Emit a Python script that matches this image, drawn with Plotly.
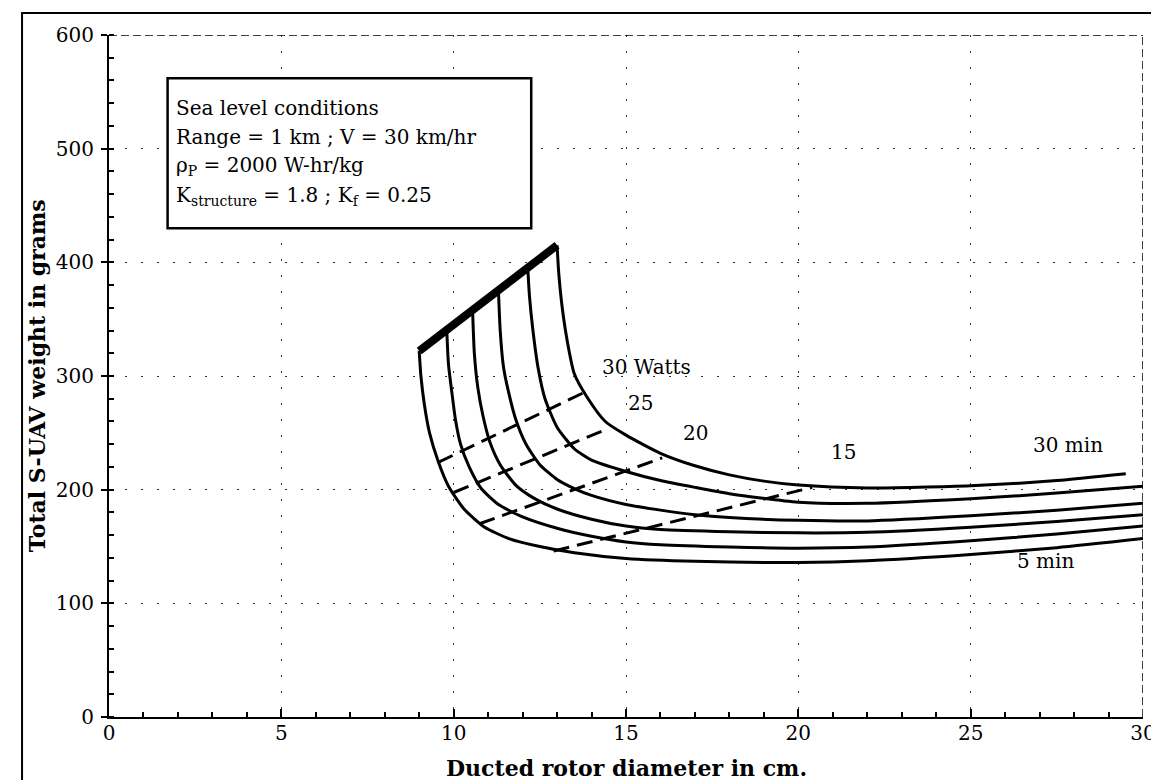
import plotly.graph_objects as go

# ---- data: endurance curves (total weight vs ducted rotor diameter) ----
diam_5min = [9.0, 9.05, 9.15, 9.3, 9.55, 9.85, 10.3, 10.9, 11.6, 12.5, 13.5, 15.0, 17.0, 20.0, 22.0, 25.0, 27.5, 30.0]
wt_5min = [322, 300, 275, 250, 225, 203, 183, 167, 157, 150, 144.5, 139.5, 137, 136, 137.5, 143, 149, 157]

diam_10min = [9.8, 9.85, 9.95, 10.05, 10.2, 10.45, 10.8, 11.3, 12.0, 13.0, 14.0, 15.0, 16.0, 18.0, 20.0, 22.0, 25.0, 27.5, 30.0]
wt_10min = [340, 310, 285, 262, 240, 220, 201, 187, 176, 166, 159, 154, 151.5, 149.5, 148.5, 149.5, 155, 161, 168]

diam_15min = [10.55, 10.6, 10.7, 10.85, 11.05, 11.35, 11.8, 12.3, 13.0, 14.0, 15.0, 16.0, 18.0, 20.0, 22.0, 25.0, 27.5, 30.0]
wt_15min = [357, 320, 290, 265, 242, 222, 204, 193, 183, 174, 168, 165, 163, 162, 162.5, 167, 172, 178]

diam_20min = [11.3, 11.35, 11.45, 11.6, 11.8, 12.1, 12.5, 13.0, 13.5, 14.0, 15.0, 16.0, 17.0, 18.0, 20.0, 22.0, 25.0, 27.5, 30.0]
wt_20min = [375, 340, 307, 285, 262, 240, 222, 209, 201, 195, 187, 182, 178, 175.5, 173, 172.5, 177, 182, 188]

diam_25min = [12.15, 12.2, 12.3, 12.45, 12.65, 13.0, 13.5, 14.0, 15.0, 16.0, 17.0, 18.0, 20.0, 22.0, 25.0, 27.5, 30.0]
wt_25min = [395, 370, 340, 307, 280, 255, 236, 226, 216, 208, 202, 196.5, 189, 188, 192, 197, 203]

diam_30min = [13.0, 13.05, 13.15, 13.3, 13.5, 13.9, 14.4, 15.0, 16.0, 17.0, 18.0, 19.0, 20.0, 22.0, 25.0, 27.5, 29.5]
wt_30min = [415, 390, 360, 330, 302, 280, 260, 248, 232, 221, 213, 207.5, 204, 201.5, 203.5, 208, 214]

# upper envelope (thick line joining curve starts)
envelope_diam = [9.0, 13.0]
envelope_wt = [322, 415]

# constant power lines (dashed)
diam_30W = [9.55, 13.75]
wt_30W = [224, 285]
diam_25W = [10.0, 14.5]
wt_25W = [197.5, 254]
diam_20W = [10.75, 16.05]
wt_20W = [170, 228]
diam_15W = [12.9, 20.4]
wt_15W = [146, 202]

x_ticks = [0, 5, 10, 15, 20, 25, 30]
y_ticks = [0, 100, 200, 300, 400, 500, 600]

box_lines = [
    "Sea level conditions",
    "Range = 1 km ; V = 30 km/hr",
    "\u03c1<sub>P</sub> = 2000 W-hr/kg",
    "K<sub>structure</sub> = 1.8 ; K<sub>f</sub> = 0.25",
]
box_line_y = [536, 510, 485, 458]

curve_labels = ["30 Watts", "25", "20", "15", "30 min", "5 min"]
curve_label_x = [14.25, 15.0, 16.6, 20.9, 26.75, 26.3]
curve_label_y = [308, 276, 249.5, 233, 239, 137]

FONT = "DejaVu Serif"

fig = go.Figure()

endurance = [
    (diam_5min, wt_5min), (diam_10min, wt_10min), (diam_15min, wt_15min),
    (diam_20min, wt_20min), (diam_25min, wt_25min), (diam_30min, wt_30min),
]
for xs, ys in endurance:
    fig.add_trace(go.Scatter(x=xs, y=ys, mode="lines",
                             line=dict(color="black", width=3, shape="spline", smoothing=0.6),
                             showlegend=False, hoverinfo="skip"))

fig.add_trace(go.Scatter(x=envelope_diam, y=envelope_wt, mode="lines",
                         line=dict(color="black", width=8), showlegend=False, hoverinfo="skip"))

for xs, ys in [(diam_30W, wt_30W), (diam_25W, wt_25W), (diam_20W, wt_20W), (diam_15W, wt_15W)]:
    fig.add_trace(go.Scatter(x=xs, y=ys, mode="lines",
                             line=dict(color="black", width=3, dash="16px,8px"),
                             showlegend=False, hoverinfo="skip"))

# plot border top/right (dashed)
fig.add_shape(type="line", x0=0, x1=30, y0=600, y1=600, xref="x", yref="y",
              line=dict(color="black", width=1.5, dash="8px,4px"))
fig.add_shape(type="line", x0=30, x1=30, y0=0, y1=600, xref="x", yref="y",
              line=dict(color="black", width=1.5, dash="8px,4px"))

# outer frame
fig.add_shape(type="rect", xref="paper", yref="paper",
              x0=-0.0841, x1=1.0164, y0=-0.0968, y1=1.0323,
              line=dict(color="black", width=2), layer="above")

# text box
fig.add_shape(type="rect", xref="x", yref="y", x0=1.7, x1=12.25, y0=430, y1=562,
              line=dict(color="black", width=2.5), fillcolor="white", layer="above")
for txt, yy in zip(box_lines, box_line_y):
    fig.add_annotation(x=1.88, y=yy, xref="x", yref="y", text=txt, showarrow=False,
                       xanchor="left", yanchor="middle",
                       font=dict(family=FONT, size=20, color="black"))

for txt, lx, ly in zip(curve_labels, curve_label_x, curve_label_y):
    fig.add_annotation(x=lx, y=ly, xref="x", yref="y", text=txt, showarrow=False,
                       xanchor="left", yanchor="middle",
                       font=dict(family=FONT, size=20, color="black"))

# axis titles
fig.add_annotation(x=0.5, y=-0.0748, xref="paper", yref="paper",
                   text="<b>Ducted rotor diameter in cm.</b>", showarrow=False,
                   xanchor="center", yanchor="middle",
                   font=dict(family=FONT, size=22, color="black"))
fig.add_annotation(x=-0.0695, y=0.5, xref="paper", yref="paper",
                   text="<b>Total S-UAV weight in grams</b>", showarrow=False, textangle=-90,
                   xanchor="center", yanchor="middle",
                   font=dict(family=FONT, size=22, color="black"))

fig.update_layout(
    width=1159, height=780,
    margin=dict(l=101, r=24, t=27, b=71),
    paper_bgcolor="white", plot_bgcolor="white",
    showlegend=False,
    font=dict(family=FONT, size=20, color="black"),
)
fig.update_xaxes(
    range=[0, 30], tickvals=x_ticks, ticktext=[str(v) for v in x_ticks],
    showline=True, linecolor="black", linewidth=2,
    ticks="inside", ticklen=8, tickwidth=1.5, tickcolor="black",
    showgrid=True, gridcolor="#333333", gridwidth=1, griddash="2px,14px",
    zeroline=False,
    minor=dict(dtick=1, ticks="inside", ticklen=5, tickcolor="black", showgrid=False),
    tickfont=dict(family=FONT, size=20), ticklabelstandoff=-3,
)
fig.update_yaxes(
    range=[0, 600], tickvals=y_ticks, ticktext=[str(v) for v in y_ticks],
    showline=True, linecolor="black", linewidth=2,
    ticks="outside", ticklen=6, tickwidth=1.5, tickcolor="black",
    showgrid=True, gridcolor="#333333", gridwidth=1, griddash="2px,14px",
    zeroline=False,
    minor=dict(dtick=20, ticks="inside", ticklen=5, tickcolor="black", showgrid=False),
    tickfont=dict(family=FONT, size=20), ticklabelstandoff=3,
)

fig.write_html("out.html")
